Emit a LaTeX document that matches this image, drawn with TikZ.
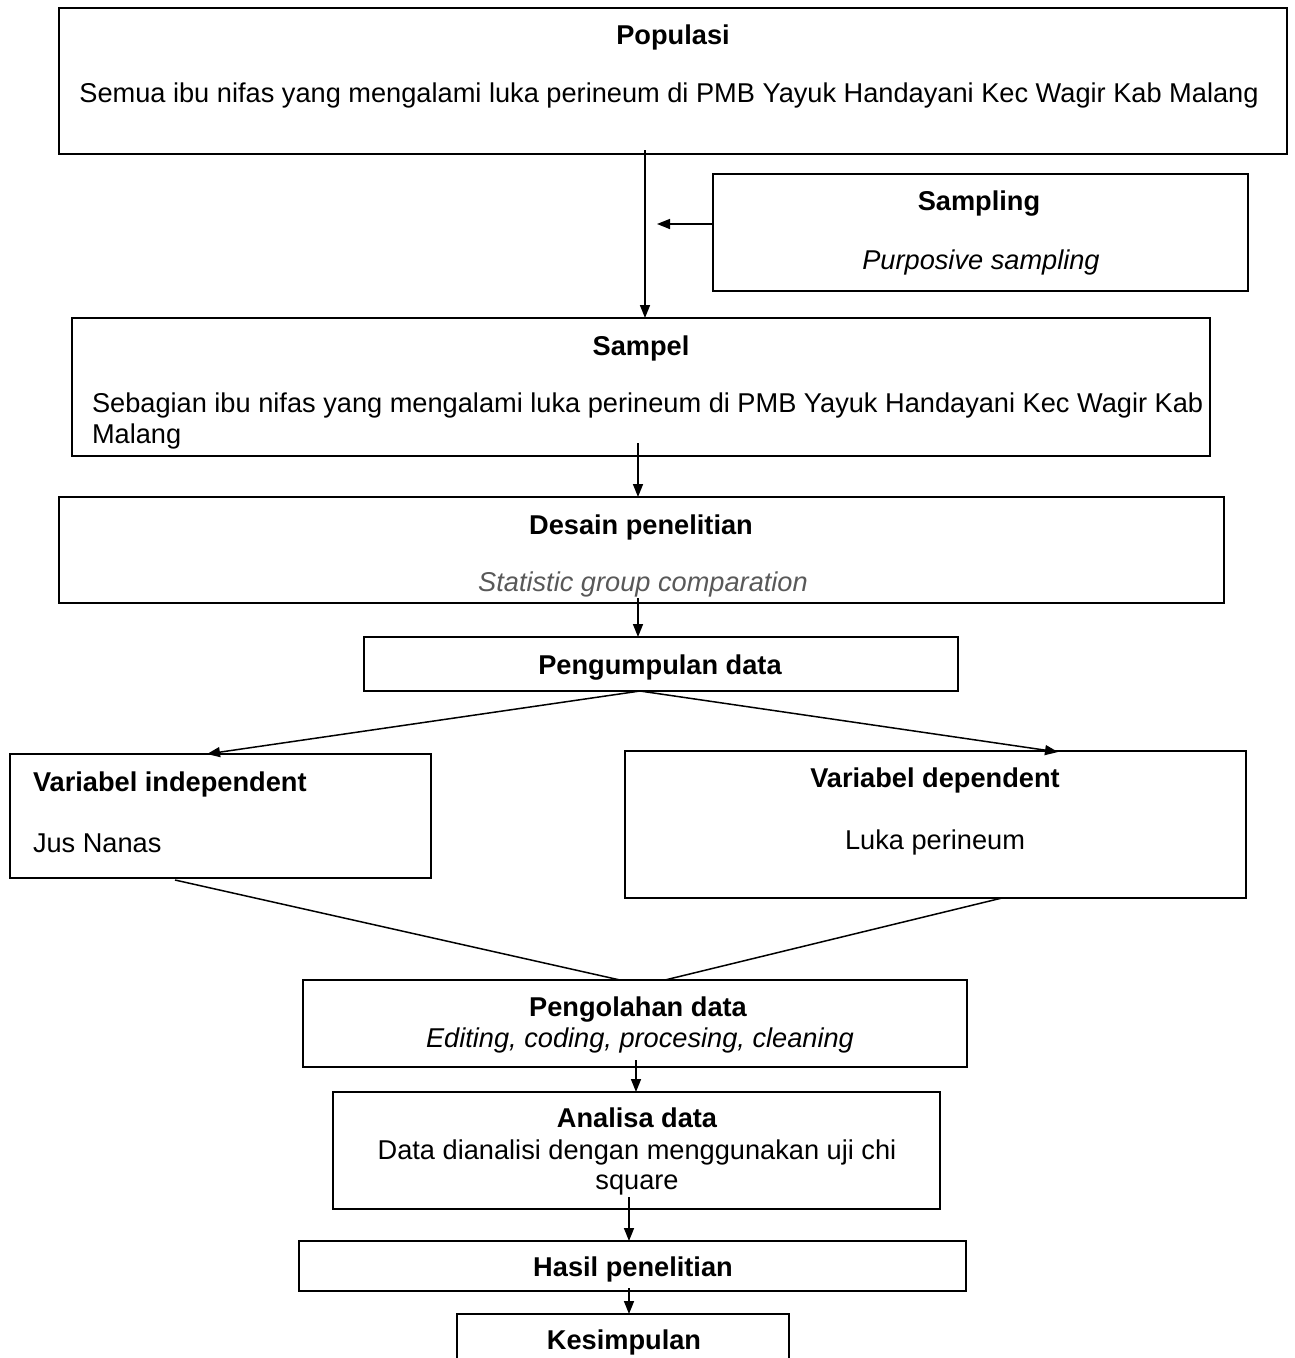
\documentclass[tikz,border=0pt]{standalone}
\usepackage{fontspec}
\setmainfont{Liberation Sans}
\usetikzlibrary{arrows.meta}
\definecolor{greytext}{HTML}{595959}
\begin{document}
\begin{tikzpicture}[x=1pt,y=-1pt,
  box/.style={draw=black,line width=2pt,inner sep=0pt,outer sep=0pt,fill=none},
  txt/.style={inner sep=0pt,outer sep=0pt,anchor=base,font=\fontsize{27.2}{31}\selectfont},
  txtl/.style={txt,anchor=base west},
  ttl/.style={txt,font=\fontsize{27.2}{31}\selectfont\bfseries},
  ttll/.style={ttl,anchor=base west},
  arr/.style={line width=1.5pt,-{Triangle[length=13pt,width=10pt]}},
  ln/.style={line width=1.5pt}]
\useasboundingbox (0,0) rectangle (1294,1358);
\clip (0,0) rectangle (1294,1358);
% boxes
\node[box,minimum width=1228,minimum height=146] (pop) at (673,81) {};
\node[box,minimum width=535,minimum height=117] (sampling) at (980.5,232.5) {};
\node[box,minimum width=1138,minimum height=138] (sampel) at (641,387) {};
\node[box,minimum width=1165,minimum height=106] (desain) at (641.5,550) {};
\node[box,minimum width=594,minimum height=54] (kumpul) at (661,664) {};
\node[box,minimum width=421,minimum height=124] (indep) at (220.5,816) {};
\node[box,minimum width=621,minimum height=147] (dep) at (935.5,824.5) {};
\node[box,minimum width=664,minimum height=87] (olah) at (635,1023.5) {};
\node[box,minimum width=607,minimum height=117] (analisa) at (636.5,1150.5) {};
\node[box,minimum width=667,minimum height=50] (hasil) at (632.5,1266) {};
\node[box,minimum width=332,minimum height=61] (simpul) at (623,1344.5) {};
% texts
\node[ttl] (t1) at (673,44) {Populasi};
\node[txt] (t2) at (669,102) {Semua ibu nifas yang mengalami luka perineum di PMB Yayuk Handayani Kec Wagir Kab Malang};
\node[ttl] (t3) at (979,210) {Sampling};
\node[txt,font=\fontsize{27.2}{31}\selectfont\itshape] (t4) at (981,269) {Purposive sampling};
\node[ttl] (t5) at (641,355) {Sampel};
\node[txtl] (t6) at (92,412) {Sebagian ibu nifas yang mengalami luka perineum di PMB Yayuk Handayani Kec Wagir Kab};
\node[txtl] (t7) at (92,443) {Malang};
\node[ttl] (t8) at (641,534) {Desain penelitian};
\node[txt,font=\fontsize{27.2}{31}\selectfont\itshape,text=greytext] (t9) at (643,591) {Statistic group comparation};
\node[ttl] (t10) at (660,674) {Pengumpulan data};
\node[ttll] (t11) at (33,791) {Variabel independent};
\node[txtl] (t12) at (33,852) {Jus Nanas};
\node[ttl] (t13) at (935,787) {Variabel dependent};
\node[txt] (t14) at (935,849) {Luka perineum};
\node[ttl] (t15) at (638,1016) {Pengolahan data};
\node[txt,font=\fontsize{27.2}{31}\selectfont\itshape] (t16) at (640,1047) {Editing, coding, procesing, cleaning};
\node[ttl] (t17) at (637,1127) {Analisa data};
\node[txt] (t18) at (637,1159) {Data dianalisi dengan menggunakan uji chi};
\node[txt] (t19) at (637,1189) {square};
\node[ttl] (t20) at (633,1276) {Hasil penelitian};
\node[ttl] (t21) at (624,1349) {Kesimpulan};
% connectors
\coordinate (samptip) at (657,224);
\draw[arr] ([xshift=-28pt,yshift=4pt]pop.south) -- ([xshift=4pt]sampel.north);
\draw[arr] ([yshift=8.5pt]sampling.west) -- (samptip);
\draw[arr] ([xshift=-3pt,yshift=13pt]sampel.south) -- ([xshift=-3.5pt]desain.north);
\draw[arr] ([xshift=-3.5pt,yshift=5pt]desain.south) -- ([xshift=-23pt]kumpul.north);
\draw[arr] ([xshift=-21pt]kumpul.south) -- ([xshift=-13.5pt]indep.north);
\draw[arr] ([xshift=-21pt]kumpul.south) -- ([xshift=122.5pt,yshift=-1pt]dep.north);
\draw[ln] ([xshift=-45.5pt,yshift=-2pt]indep.south) -- ([xshift=-15pt]olah.north);
\draw[ln] ([xshift=66.5pt]dep.south) -- ([xshift=30pt]olah.north);
\draw[arr] ([xshift=1pt,yshift=7pt]olah.south) -- ([xshift=-0.5pt]analisa.north);
\draw[arr] ([xshift=-7.5pt,yshift=12pt]analisa.south) -- ([xshift=-3.5pt]hasil.north);
\draw[arr] ([xshift=-3.5pt,yshift=3pt]hasil.south) -- ([xshift=6pt]simpul.north);
\end{tikzpicture}
\end{document}
